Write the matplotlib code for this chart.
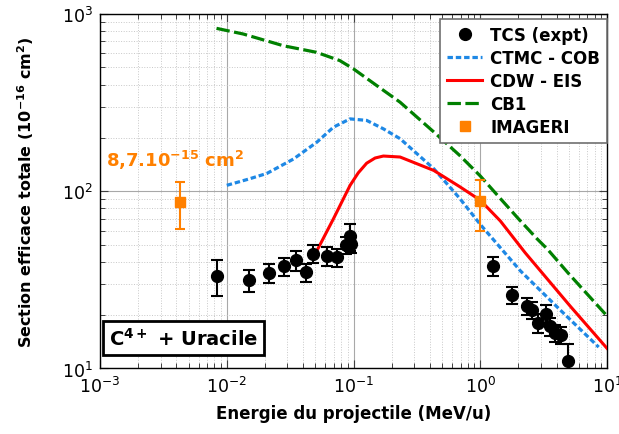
import numpy as np
import matplotlib
matplotlib.use("Agg")
import matplotlib.pyplot as plt
from matplotlib.ticker import LogLocator, NullFormatter

plt.rcParams.update({
    'font.family': 'DejaVu Sans',
    'font.size': 12,
    'axes.linewidth': 1.0,
    'mathtext.fontset': 'dejavusans',
})

# TCS (expt) -- energy (MeV/u), cross section (1e-16 cm2), error
tcs_x = [0.0083, 0.0149, 0.0217, 0.0282, 0.035, 0.0423, 0.0478, 0.0622, 0.0743,
         0.087, 0.094, 0.096,
         1.27, 1.78, 2.34, 2.56, 2.86, 3.32, 3.58, 3.91, 4.34, 4.90]
tcs_y = [33.4, 31.4, 34.6, 37.7, 40.8, 34.8, 44.5, 43.0, 42.4,
         49.9, 55.8, 50.5,
         38.0, 25.9, 22.5, 21.4, 18.1, 20.3, 17.3, 15.9, 15.4, 11.0]
tcs_err = [7.7, 4.4, 4.4, 4.5, 5.1, 3.9, 5.3, 5.3, 5.0,
           5.5, 9.5, 5.5,
           4.8, 2.8, 2.5, 2.4, 2.2, 2.4, 2.0, 1.8, 1.7, 2.7]

# CTMC - COB
ctmc_x = [0.01, 0.0148, 0.0207, 0.0336, 0.0513, 0.0695, 0.094, 0.127, 0.172,
          0.233, 0.43, 0.69, 1.0, 2.07, 4.27, 8.6]
ctmc_y = [108, 117, 126, 152, 189, 230, 256, 251, 225,
          198, 134, 91, 65, 35.6, 21.4, 13.2]

# CDW - EIS
cdw_x = [0.048, 0.0695, 0.094, 0.109, 0.127, 0.148, 0.172, 0.233, 0.43, 0.69,
         1.0, 1.44, 2.26, 5.12, 10.0]
cdw_y = [42, 70, 108, 127, 144, 154, 158, 156, 131, 106,
         89, 68, 45, 22.5, 13.0]

# CB1
cb1_x = [0.0083, 0.0135, 0.028, 0.051, 0.078, 0.10, 0.153, 0.233, 0.43, 0.69,
         1.0, 1.44, 2.0, 2.8, 3.4, 5.0, 10.0]
cb1_y = [830, 771, 662, 608, 546, 490, 394, 318, 216, 159,
         122, 91, 70, 54, 47, 34.2, 19.8]

# IMAGERI
img_x = [0.0043, 1.0]
img_y = [87, 88]
img_err = [26, 28]

orange = '#FF8000'
blue = '#1E88E5'

fig = plt.figure(figsize=(6.19, 4.35), dpi=100)
ax = fig.add_axes([0.1616, 0.1506, 0.8190, 0.8149])

ax.set_xscale('log')
ax.set_yscale('log')
ax.set_xlim(1e-3, 10)
ax.set_ylim(10, 1000)

# grid
ax.grid(True, which='major', color='#a8a8a8', linewidth=0.8, linestyle='-', zorder=0)
ax.grid(True, which='minor', color='#c8c8c8', linewidth=0.7, linestyle=':', zorder=0)
ax.set_axisbelow(True)

# theory curves
ax.plot(ctmc_x, ctmc_y, color=blue, lw=2.3, dashes=(1.7, 0.9), zorder=3,
        label='CTMC - COB')
ax.plot(cdw_x, cdw_y, color='#FF0000', lw=2.2, zorder=3, label='CDW - EIS')
ax.plot(cb1_x, cb1_y, color='#008000', lw=2.3, dashes=(4.2, 1.4), zorder=3,
        label='CB1')

# experiment
ax.errorbar(tcs_x, tcs_y, yerr=tcs_err, fmt='none', ecolor='black',
            elinewidth=1.5, capsize=4, capthick=1.5, zorder=4)
ax.plot(tcs_x, tcs_y, 'o', color='black', markersize=8.5, linestyle='none',
        zorder=5, label='TCS (expt)')

ax.errorbar(img_x, img_y, yerr=img_err, fmt='none', ecolor=orange,
            elinewidth=1.5, capsize=3.5, capthick=1.5, zorder=4)
ax.plot(img_x, img_y, 's', color=orange, markersize=7, linestyle='none',
        zorder=5, label='IMAGERI')

# ticks
ax.xaxis.set_minor_locator(LogLocator(base=10, subs=np.arange(2, 10), numticks=20))
ax.yaxis.set_minor_locator(LogLocator(base=10, subs=np.arange(2, 10), numticks=20))
ax.xaxis.set_minor_formatter(NullFormatter())
ax.yaxis.set_minor_formatter(NullFormatter())
ax.tick_params(which='both', direction='in', top=True, right=True,
               labelsize=12.5, color='#404040')
ax.tick_params(which='major', length=6, width=0.8, pad=5)
ax.tick_params(which='minor', length=3.5, width=0.7)

ax.set_xlabel('Energie du projectile (MeV/u)', fontsize=12, fontweight='bold',
              labelpad=6)
ax.set_ylabel(r'Section efficace totale (10$^{\mathbf{-16}}$ cm$^{\mathbf{2}}$)',
              fontsize=11.5, fontweight='bold', labelpad=19)

# legend
handles, labels = ax.get_legend_handles_labels()
order = [labels.index(l) for l in ['TCS (expt)', 'CTMC - COB', 'CDW - EIS', 'CB1', 'IMAGERI']]
leg = ax.legend([handles[i] for i in order], [labels[i] for i in order],
                loc='upper right', bbox_to_anchor=(1.0, 0.985), borderaxespad=0,
                fancybox=False, framealpha=1, edgecolor='#707070',
                prop={'weight': 'bold', 'size': 12}, handlelength=2.1,
                handletextpad=0.5, labelspacing=0.3, borderpad=0.4)
leg.get_frame().set_linewidth(1.2)

# annotations
ax.text(0.012, 0.59, r'8,7.10$^{\mathbf{-15}}$ cm$^{\mathbf{2}}$', transform=ax.transAxes,
        color=orange, fontsize=13, fontweight='bold', ha='left', va='center')
ax.text(0.165, 0.086, r'C$^{\mathbf{4+}}$ + Uracile', transform=ax.transAxes,
        fontsize=14, fontweight='bold', ha='center', va='center', zorder=6,
        bbox=dict(boxstyle='square,pad=0.3', fc='white', ec='black', lw=2.0))

fig.savefig('out.png', dpi=100)
